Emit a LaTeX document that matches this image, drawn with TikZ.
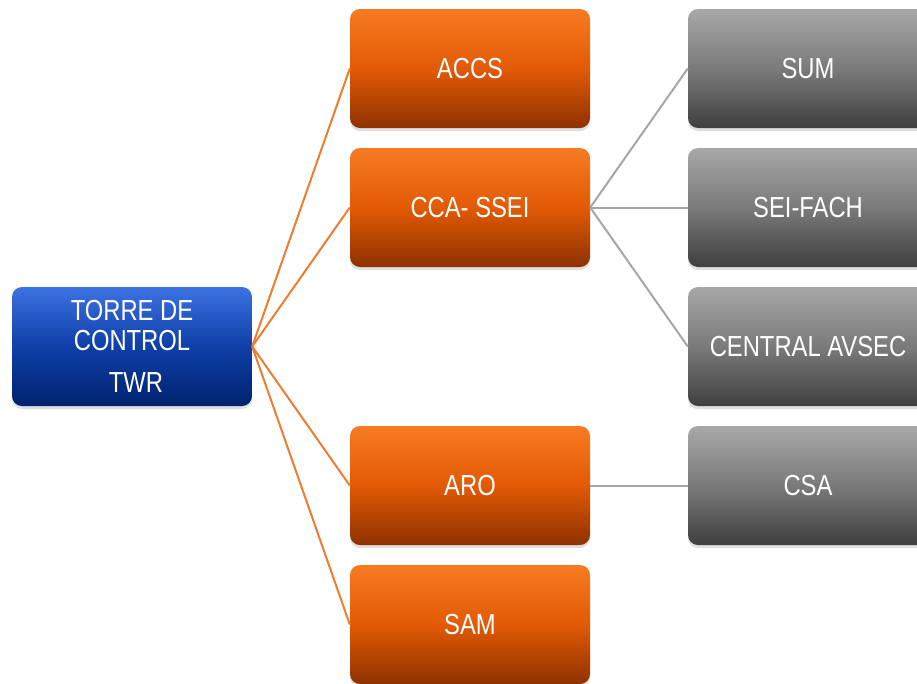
\documentclass[tikz,border=0pt]{standalone}
\usepackage{fontspec}
\setmainfont{Liberation Sans}[FakeStretch=0.82]
\usetikzlibrary{shadows}
\definecolor{orTop}{HTML}{F77B22}
\definecolor{orMid}{HTML}{E25A05}
\definecolor{orBot}{HTML}{8E3100}
\definecolor{blTop}{HTML}{3C72E2}
\definecolor{blMid}{HTML}{0F3FA8}
\definecolor{blBot}{HTML}{01226E}
\definecolor{gyTop}{HTML}{A8A8A8}
\definecolor{gyMid}{HTML}{7A7A7A}
\definecolor{gyBot}{HTML}{3F3F3F}
\definecolor{orLine}{HTML}{ED7D31}
\definecolor{gyLine}{HTML}{A6A6A6}
\tikzset{
  basebox/.style={rounded corners=10pt, minimum width=240pt, minimum height=119pt,
    inner sep=0pt, text=white, align=center,
    font=\fontsize{29}{30}\selectfont,
    drop shadow={opacity=0.25, shadow xshift=0pt, shadow yshift=-3pt}},
  orbox/.style={basebox, top color=orTop, bottom color=orBot, middle color=orMid},
  blbox/.style={basebox, top color=blTop, bottom color=blBot, middle color=blMid},
  gybox/.style={basebox, top color=gyTop, bottom color=gyBot, middle color=gyMid},
  orcon/.style={draw=orLine, line width=2pt},
  gycon/.style={draw=gyLine, line width=2pt}
}
\begin{document}
\begin{tikzpicture}[x=1pt,y=-1pt]
\useasboundingbox (0,0) rectangle (917,683);
\fill[white] (0,0) rectangle (917,683);
\node[blbox] (twr) at (132,346.5) {TORRE DE\\CONTROL\\[12pt]\hspace{8pt}TWR};
\node[orbox] (accs) at (470,68.5) {ACCS};
\node[orbox] (cca) at (470,207.5) {CCA- SSEI};
\node[orbox] (aro) at (470,485.5) {ARO};
\node[orbox] (sam) at (470,624.5) {SAM};
\node[gybox] (sum) at (808,68.5) {SUM};
\node[gybox] (sei) at (808,207.5) {SEI-FACH};
\node[gybox] (avsec) at (808,346.5) {CENTRAL AVSEC};
\node[gybox] (csa) at (808,485.5) {CSA};
\draw[orcon] (twr.east) -- (accs.west);
\draw[orcon] (twr.east) -- (cca.west);
\draw[orcon] (twr.east) -- (aro.west);
\draw[orcon] (twr.east) -- (sam.west);
\draw[gycon] (cca.east) -- (sum.west);
\draw[gycon] (cca.east) -- (sei.west);
\draw[gycon] (cca.east) -- (avsec.west);
\draw[gycon] (aro.east) -- (csa.west);
\end{tikzpicture}
\end{document}
